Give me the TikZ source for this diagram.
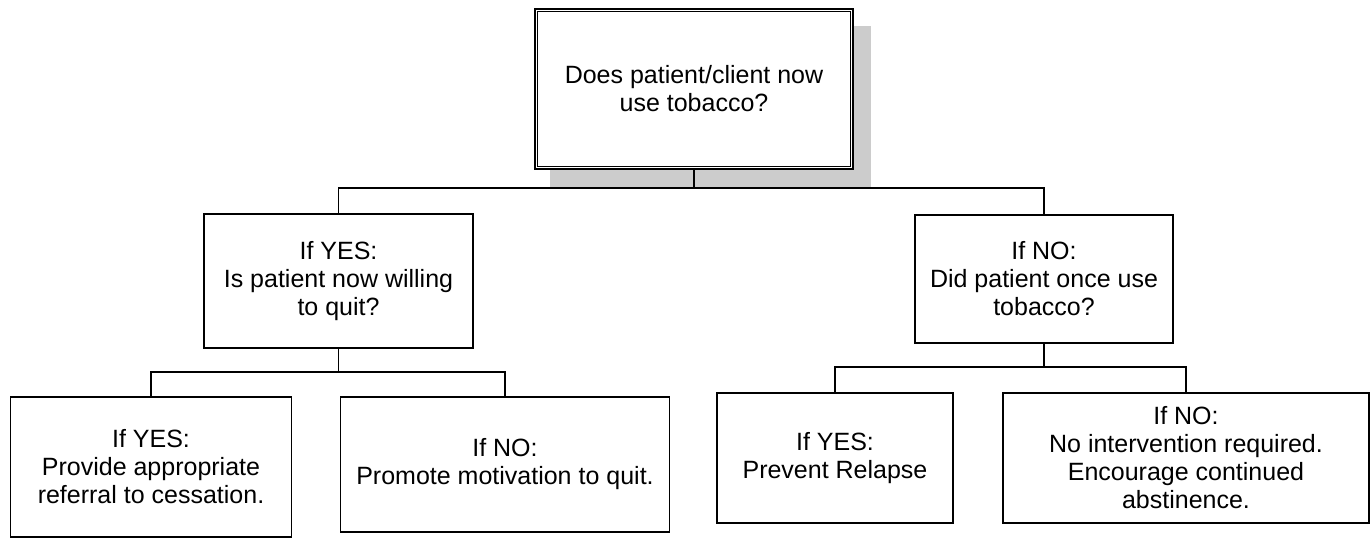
\documentclass[tikz,border=0pt]{standalone}
\usepackage{fontspec}
\setmainfont{Liberation Sans}
\begin{document}
\begin{tikzpicture}[x=1pt,y=-1pt,
  box/.style={draw, line width=1.8pt, fill=white, align=center, inner sep=0pt,
    font=\fontsize{25}{28}\selectfont},
  conn/.style={line width=1.6pt}]
\useasboundingbox (0,0) rectangle (1372,539);
% shadow of top box
\fill[black!20] (550,26) rectangle (871,187);
% top box
\node[box, line width=2.4pt, minimum width=318pt, minimum height=160pt] (top) at (694,89)
  {Does patient/client now\\use tobacco?};
\draw[line width=1.2pt] ([xshift=4pt,yshift=-4pt]top.north west) rectangle ([xshift=-4pt,yshift=4pt]top.south east);
% middle boxes
\node[box, minimum width=269pt, minimum height=134pt] (ml) at (338.5,281)
  {If YES:\\Is patient now willing\\to quit?};
\node[box, minimum width=258pt, minimum height=128pt] (mr) at (1044,279)
  {If NO:\\Did patient once use\\tobacco?};
% bottom boxes
\node[box, minimum width=281pt, minimum height=140pt] (bl1) at (151,467)
  {If YES:\\Provide appropriate\\referral to cessation.};
\node[box, minimum width=329pt, minimum height=135pt] (bl2) at (505,464.5)
  {If NO:\\Promote motivation to quit.};
\node[box, minimum width=236pt, minimum height=130pt] (br1) at (835,458)
  {If YES:\\Prevent Relapse};
\node[box, minimum width=366pt, minimum height=130pt] (br2) at (1186,458)
  {If NO:\\No intervention required.\\Encourage continued\\abstinence.};
% junctions
\coordinate (j1) at (694,188);
\coordinate (j2) at (338.5,372);
\coordinate (j3) at (1044,367);
% connectors
\draw[conn] (top.south) -- (j1);
\draw[conn] (ml.north) |- (j1) -| (mr.north);
\draw[conn] (ml.south) -- (j2);
\draw[conn] (bl1.north) |- (j2) -| (bl2.north);
\draw[line width=2.6pt] (mr.south) -- (j3);
\draw[conn] (br1.north) |- (j3) -| (br2.north);
\end{tikzpicture}
\end{document}
